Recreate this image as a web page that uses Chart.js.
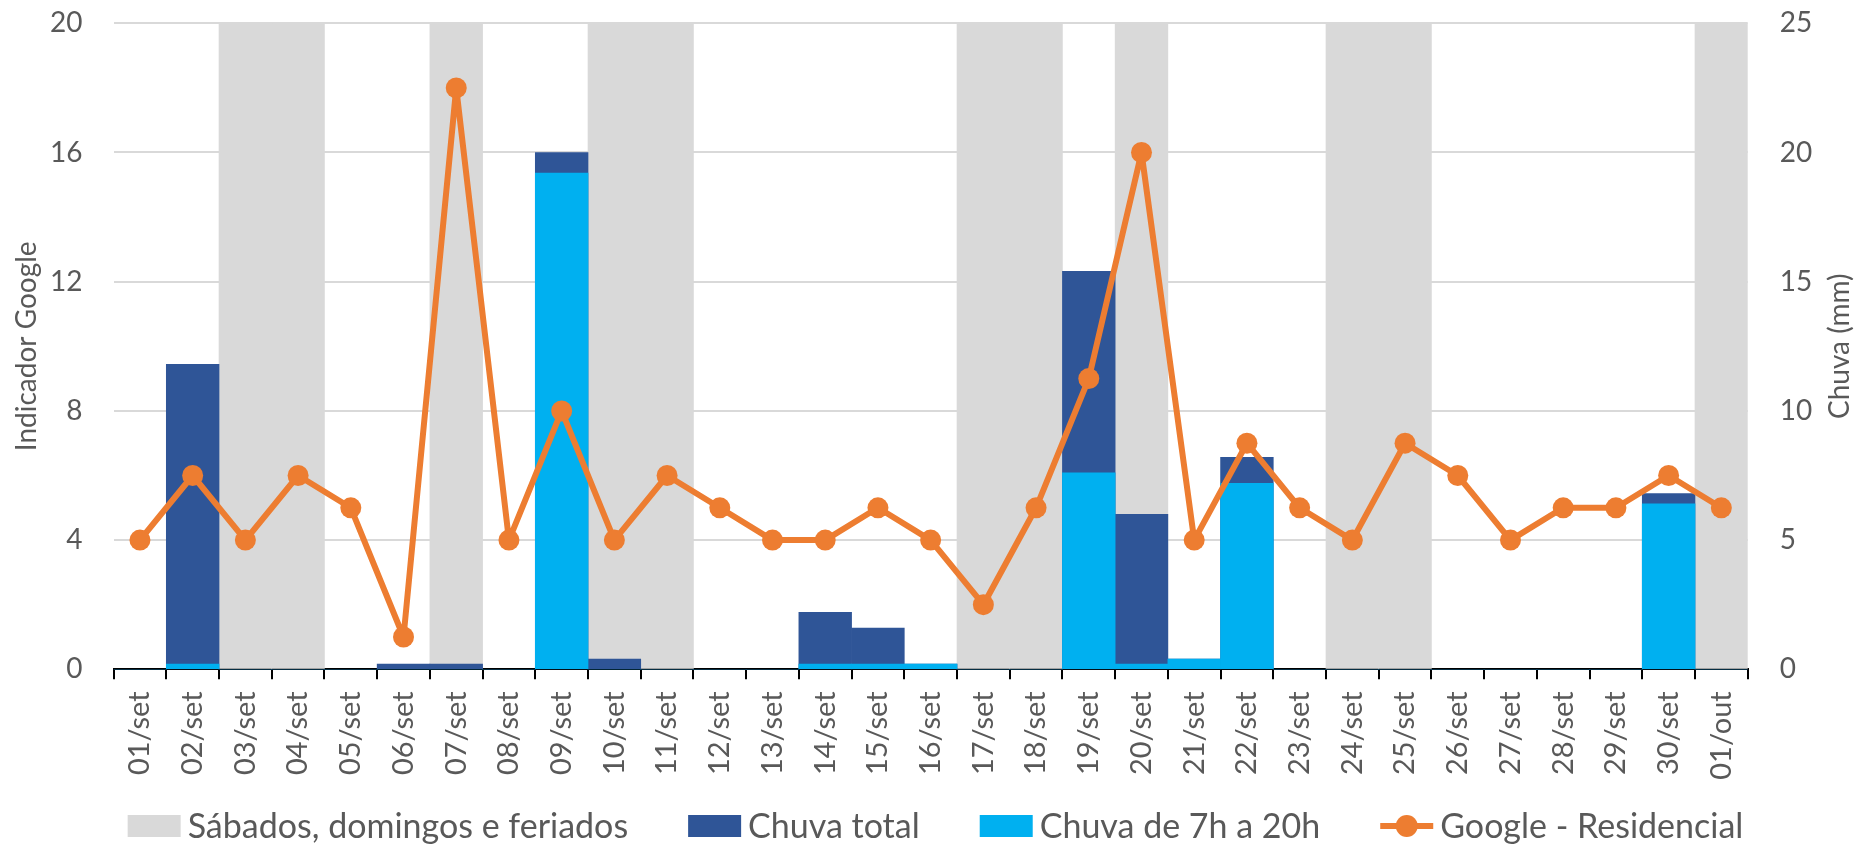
<!DOCTYPE html>
<html>
<head>
<meta charset="utf-8">
<script src="https://cdn.jsdelivr.net/npm/chart.js@4.4.1/dist/chart.umd.min.js"></script>
<style>
  html, body { margin: 0; padding: 0; background: #ffffff; }
  #wrap { width: 1859px; height: 845px; position: relative; overflow: hidden; }
  canvas { display: block; }
</style>
</head>
<body>
<div id="wrap"><canvas id="c" width="1859" height="845"></canvas></div>
<script>
// ---------------- DATA ----------------
const categories = ['01/set','02/set','03/set','04/set','05/set','06/set','07/set','08/set','09/set','10/set',
  '11/set','12/set','13/set','14/set','15/set','16/set','17/set','18/set','19/set','20/set',
  '21/set','22/set','23/set','24/set','25/set','26/set','27/set','28/set','29/set','30/set','01/out'];

const diasNaoUteis = ['03/set','04/set','07/set','10/set','11/set','17/set','18/set','20/set','24/set','25/set','01/out'];

const chuvaTotal = [0, 11.8, 0, 0, 0, 0.2, 0.2, 0, 20.0, 0.4,
  0, 0, 0, 2.2, 1.6, 0.2, 0, 0, 15.4, 6.0,
  0.4, 8.2, 0, 0, 0, 0, 0, 0, 0, 6.8, 0];

const chuva7a20 = [0, 0.2, 0, 0, 0, 0, 0, 0, 19.2, 0,
  0, 0, 0, 0.2, 0.2, 0.2, 0, 0, 7.6, 0.2,
  0.4, 7.2, 0, 0, 0, 0, 0, 0, 0, 6.4, 0];

const googleResidencial = [4, 6, 4, 6, 5, 1, 18, 4, 8, 4,
  6, 5, 4, 4, 5, 4, 2, 5, 9, 16,
  4, 7, 5, 4, 7, 6, 4, 5, 5, 6, 5];

const leftAxis = { min: 0, max: 20, step: 4 };
const rightAxis = { min: 0, max: 25, step: 5 };

// ---------------- STYLE ----------------
const FONT = 'Lato';
const TXT = '#595959';
const W = 1859, H = 845;
const AREA = { left: 113.6, right: 1747.7, top: 23.3, bottom: 669.3 };
const X_AXIS_H = 120;

const grayData = categories.map(c => diasNaoUteis.includes(c) ? leftAxis.max : null);

// legend drawn below the plot
const refLegend = {
  id: 'refLegend',
  afterDraw(chart) {
    const ctx = chart.ctx;
    const ds = chart.data.datasets;
    ctx.save();
    ctx.font = '34px ' + FONT;
    const symW = 53, symGap = 7, itemGap = 60;
    const widths = ds.map(d => ctx.measureText(d.label).width);
    const total = widths.reduce((a, w) => a + symW + symGap + w, 0) + itemGap * (ds.length - 1);
    let x = 935.5 - total / 2;
    const y = 826;
    ds.forEach((d, i) => {
      if (d.type === 'line') {
        ctx.strokeStyle = d.borderColor;
        ctx.lineWidth = 6;
        ctx.beginPath(); ctx.moveTo(x, y); ctx.lineTo(x + symW, y); ctx.stroke();
        ctx.fillStyle = d.borderColor;
        ctx.beginPath(); ctx.arc(x + symW / 2, y, 11, 0, Math.PI * 2); ctx.fill();
      } else {
        ctx.fillStyle = d.backgroundColor;
        ctx.fillRect(x, y - 11, symW, 22);
      }
      ctx.fillStyle = TXT;
      ctx.textBaseline = 'middle';
      ctx.textAlign = 'left';
      ctx.fillText(d.label, x + symW + symGap, y + 1);
      x += symW + symGap + widths[i] + itemGap;
    });
    ctx.restore();
  }
};

// right axis title (reads bottom-to-top like the left one)
const rightTitle = {
  id: 'rightTitle',
  afterDraw(chart) {
    const ctx = chart.ctx;
    const a = chart.chartArea;
    ctx.save();
    ctx.translate(1840, (a.top + a.bottom) / 2);
    ctx.rotate(-Math.PI / 2);
    ctx.font = '28px ' + FONT;
    ctx.fillStyle = TXT;
    ctx.textAlign = 'center';
    ctx.textBaseline = 'middle';
    ctx.fillText('Chuva (mm)', 0, 0);
    ctx.restore();
  }
};

new Chart(document.getElementById('c'), {
  type: 'bar',
  data: {
    labels: categories,
    datasets: [
      { type: 'bar', label: 'Sábados, domingos e feriados', data: grayData, yAxisID: 'y',
        backgroundColor: '#D9D9D9', borderWidth: 0, grouped: false,
        categoryPercentage: 1, barPercentage: 1, order: 3 },
      { type: 'bar', label: 'Chuva total', data: chuvaTotal, yAxisID: 'y1',
        backgroundColor: '#2F5597', borderWidth: 0, grouped: false,
        categoryPercentage: 1, barPercentage: 1, order: 2 },
      { type: 'bar', label: 'Chuva de 7h a 20h', data: chuva7a20, yAxisID: 'y1',
        backgroundColor: '#00B0F0', borderWidth: 0, grouped: false,
        categoryPercentage: 1, barPercentage: 1, order: 1 },
      { type: 'line', label: 'Google - Residencial', data: googleResidencial, yAxisID: 'y',
        borderColor: '#ED7D31', backgroundColor: '#ED7D31', borderWidth: 6,
        borderJoinStyle: 'round', borderCapStyle: 'round',
        pointRadius: 10.5, pointHoverRadius: 10.5, pointBackgroundColor: '#ED7D31',
        pointBorderWidth: 0, tension: 0, fill: false, order: 0 }
    ]
  },
  options: {
    responsive: false,
    animation: false,
    devicePixelRatio: 1,
    layout: { padding: { top: AREA.top, left: 0, right: 0, bottom: H - AREA.bottom - X_AXIS_H } },
    plugins: {
      legend: { display: false },
      tooltip: { enabled: false }
    },
    scales: {
      x: {
        type: 'category',
        offset: true,
        grid: { display: true, offset: true, drawOnChartArea: false, drawTicks: true,
                tickLength: 10, color: '#000000', lineWidth: 2 },
        border: { display: true, color: '#000000', width: 2 },
        ticks: { color: TXT, font: { family: FONT, size: 29 }, minRotation: 90, maxRotation: 90,
                 autoSkip: false, padding: 12 },
        afterFit(s) { s.height = X_AXIS_H; }
      },
      y: {
        position: 'left',
        min: leftAxis.min, max: leftAxis.max,
        ticks: { stepSize: leftAxis.step, color: TXT, font: { family: FONT, size: 28 }, padding: 0 },
        grid: { color: '#D9D9D9', lineWidth: 2, drawTicks: true, tickLength: 31, tickColor: 'rgba(0,0,0,0)' },
        border: { display: false },
        title: { display: true, text: 'Indicador Google', color: TXT,
                 font: { family: FONT, size: 28 }, padding: { top: 10, bottom: 0 } },
        afterFit(s) { s.width = AREA.left; }
      },
      y1: {
        position: 'right',
        min: rightAxis.min, max: rightAxis.max,
        ticks: { stepSize: rightAxis.step, color: TXT, font: { family: FONT, size: 28 }, padding: 0 },
        grid: { drawOnChartArea: false, drawTicks: true, tickLength: 32, tickColor: 'rgba(0,0,0,0)' },
        border: { display: false },
        afterFit(s) { s.width = W - AREA.right; }
      }
    }
  },
  plugins: [refLegend, rightTitle]
});
</script>
</body>
</html>
